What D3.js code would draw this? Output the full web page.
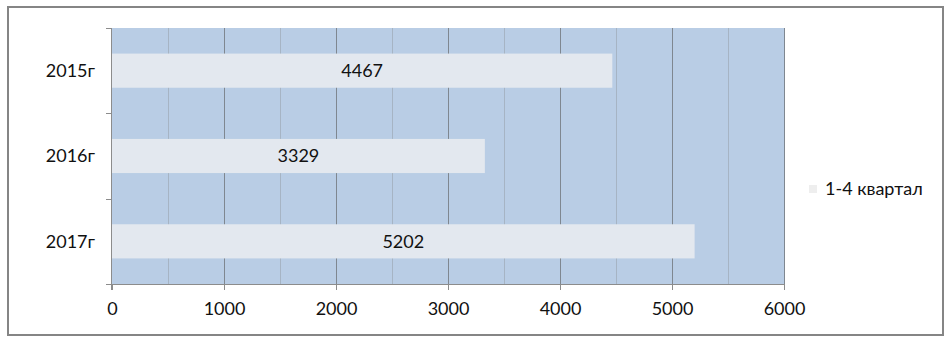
<!DOCTYPE html>
<html>
<head>
<meta charset="utf-8">
<script src="https://cdn.jsdelivr.net/npm/d3@7"></script>
<style>
  body { margin: 0; background: #fff; }
  svg { display: block; font-family: Lato, "Open Sans", sans-serif; }
</style>
</head>
<body>
<div id="chart"></div>
<script>
const years = ["2015г", "2016г", "2017г"];
const values = [4467, 3329, 5202];
const seriesName = "1-4 квартал";
const xTicks = [0, 1000, 2000, 3000, 4000, 5000, 6000];
const minorTicks = [500, 1500, 2500, 3500, 4500, 5500];

const w = 950;
const h = 343;
const fs = 18;

const svg = d3.select("#chart").append("svg")
  .attr("width", w)
  .attr("height", h);

// outer frame
svg.append("rect")
  .attr("x", 8).attr("y", 7)
  .attr("width", 935).attr("height", 328)
  .attr("fill", "#fff")
  .attr("stroke", "#858585")
  .attr("stroke-width", 2);

const pLeft = 112, pRight = 784, pTop = 28, pBottom = 284;

const xScale = d3.scaleLinear().domain([0, 6000]).range([pLeft, pRight]);
const yScale = d3.scaleBand().domain(years).range([pTop, pBottom]).paddingInner(0.6).paddingOuter(0.3);
const yBand = d3.scaleBand().domain(years).range([pTop, pBottom]);

// plot background
svg.append("rect")
  .attr("x", pLeft).attr("y", pTop)
  .attr("width", pRight - pLeft).attr("height", pBottom - pTop)
  .attr("fill", "#b9cde5");

// minor gridlines
svg.append("g").selectAll("line").data(minorTicks).enter().append("line")
  .attr("x1", d => Math.round(xScale(d)) + 0.5).attr("x2", d => Math.round(xScale(d)) + 0.5)
  .attr("y1", pTop).attr("y2", pBottom)
  .attr("stroke", "#a6b4c4").attr("stroke-width", 1);

// major gridlines
svg.append("g").selectAll("line").data(xTicks.slice(1)).enter().append("line")
  .attr("x1", d => Math.round(xScale(d)) + 0.5).attr("x2", d => Math.round(xScale(d)) + 0.5)
  .attr("y1", pTop).attr("y2", pBottom)
  .attr("stroke", "#7f8790").attr("stroke-width", 1);

// bars
svg.append("g").selectAll("rect").data(values).enter().append("rect")
  .attr("x", xScale(0))
  .attr("y", (d, i) => yScale(years[i]))
  .attr("width", d => xScale(d) - xScale(0))
  .attr("height", yScale.bandwidth())
  .attr("fill", "#e3e8ef");

// value labels
svg.append("g").selectAll("text").data(values).enter().append("text")
  .attr("x", d => (xScale(0) + xScale(d)) / 2)
  .attr("y", (d, i) => yScale(years[i]) + yScale.bandwidth() / 2)
  .attr("dy", "0.35em")
  .attr("text-anchor", "middle")
  .attr("font-size", fs)
  .attr("fill", "#111")
  .text(d => d);

// x axis
const xAxis = d3.axisBottom(xScale).tickValues(xTicks).tickFormat(d3.format("d")).tickSize(6).tickPadding(12);
const gx = svg.append("g")
  .attr("transform", "translate(0," + pBottom + ")")
  .call(xAxis);
gx.select(".domain").attr("stroke", "#8c8c8c").attr("d", "M" + pLeft + ",0.5H" + pRight);
gx.selectAll(".tick line").attr("stroke", "#8c8c8c");
gx.selectAll(".tick text").attr("font-size", fs).attr("fill", "#111").attr("font-family", "Lato, sans-serif");

// y axis (category boundaries as ticks)
svg.append("line")
  .attr("x1", pLeft - 0.5).attr("x2", pLeft - 0.5)
  .attr("y1", pTop).attr("y2", pBottom + 6)
  .attr("stroke", "#8c8c8c");
const bounds = years.map(d => yBand(d)).concat([pBottom]);
svg.append("g").selectAll("line").data(bounds).enter().append("line")
  .attr("x1", pLeft - 6).attr("x2", pLeft)
  .attr("y1", d => Math.round(d) + 0.5).attr("y2", d => Math.round(d) + 0.5)
  .attr("stroke", "#8c8c8c");

svg.append("g").selectAll("text").data(years).enter().append("text")
  .attr("x", 95)
  .attr("y", d => yBand(d) + yBand.bandwidth() / 2)
  .attr("dy", "0.35em")
  .attr("text-anchor", "end")
  .attr("font-size", fs)
  .attr("fill", "#111")
  .text(d => d);

// legend
const legend = svg.append("g").attr("transform", "translate(809,185)");
legend.append("rect").attr("width", 8).attr("height", 8).attr("fill", "#eeeeee");
legend.append("text")
  .attr("x", 16).attr("y", 4)
  .attr("dy", "0.35em")
  .attr("font-size", fs)
  .attr("fill", "#111")
  .text(seriesName);
</script>
</body>
</html>
